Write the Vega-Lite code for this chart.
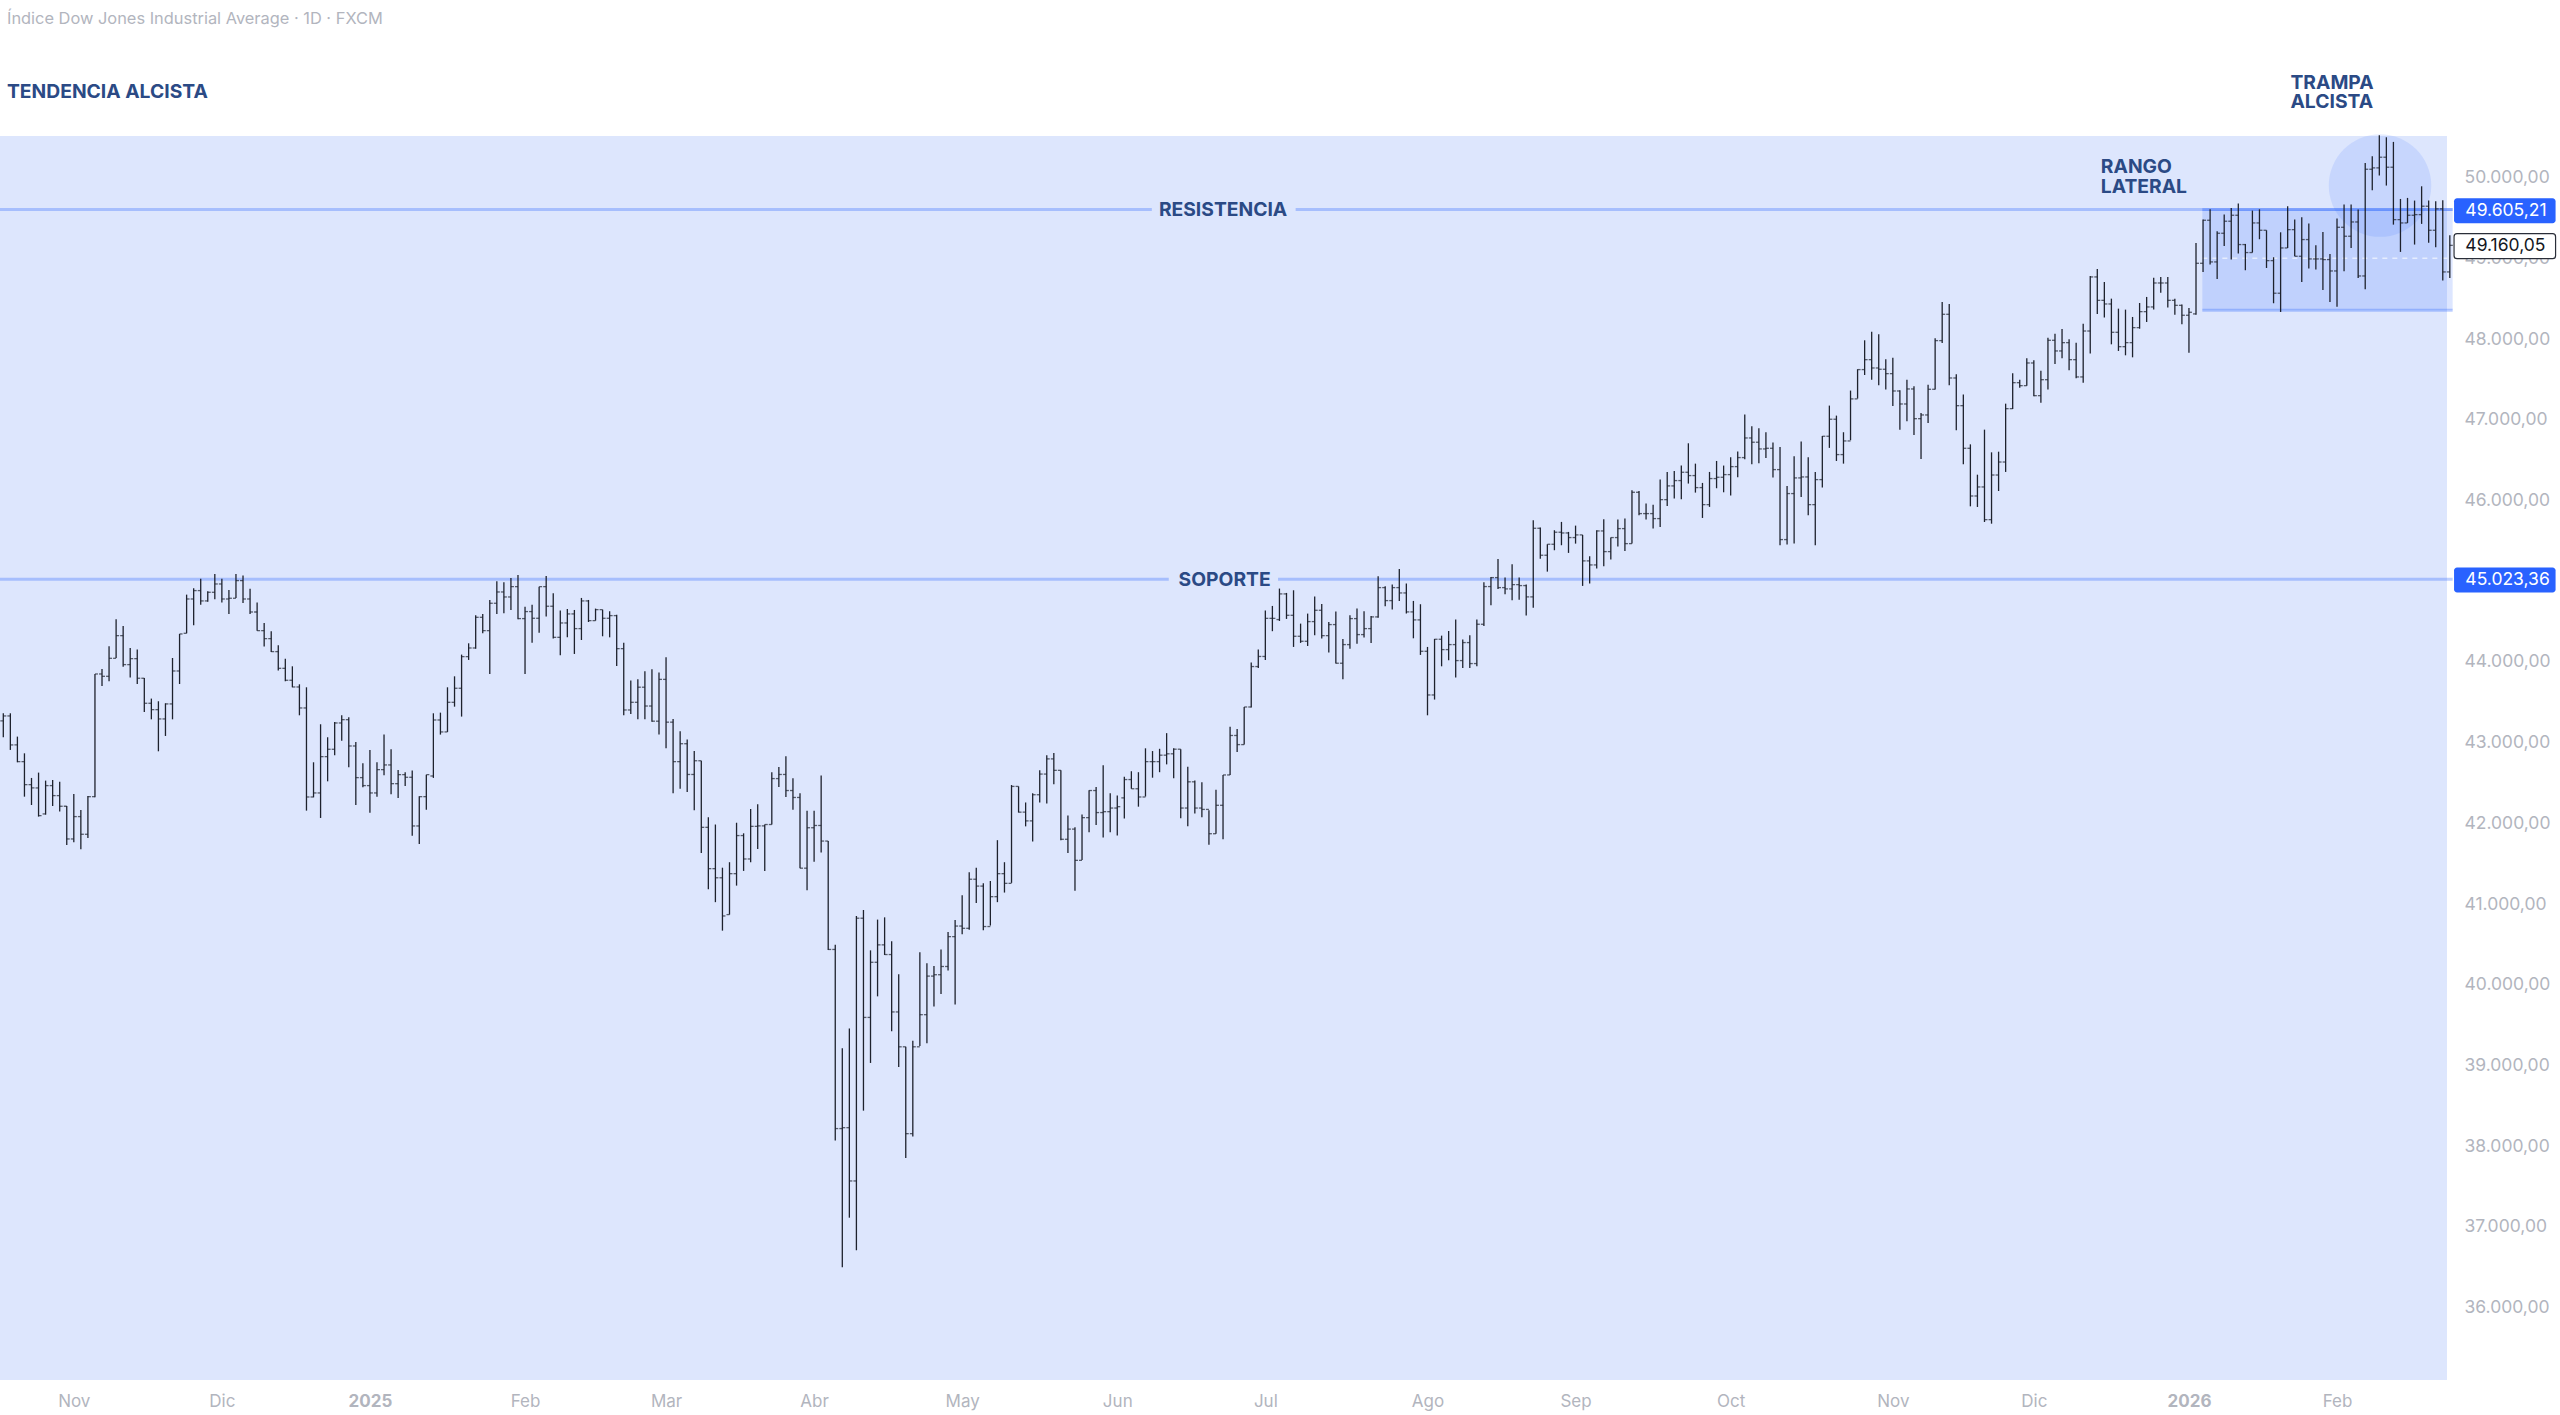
{
  "$schema": "https://vega.github.io/schema/vega-lite/v6.json",
  "autosize": {"type": "none"},
  "padding": {"left": 0, "top": 136, "right": 113, "bottom": 35},
  "width": 2447,
  "height": 1244,
  "background": "#ffffff",
  "config": {"view": {"fill": "#DDE6FD", "stroke": null}, "font": "Inter"},
  "title": {"text": "Índice Dow Jones Industrial Average · 1D · FXCM", "anchor": "start", "frame": "group", "offset": 38, "dx": 7, "baseline": "middle", "font": "Inter", "fontSize": 16.4, "fontWeight": "normal", "color": "#B2B5BE"},
  "datasets": {
    "barras": [
{"i":0,"o":43268,"h":43363,"l":43066,"c":43330},
{"i":1,"o":43330,"h":43363,"l":42909,"c":42971},
{"i":2,"o":42971,"h":43074,"l":42756,"c":42764},
{"i":3,"o":42764,"h":42867,"l":42330,"c":42479},
{"i":4,"o":42479,"h":42562,"l":42227,"c":42438},
{"i":5,"o":42438,"h":42628,"l":42083,"c":42095},
{"i":6,"o":42116,"h":42529,"l":42107,"c":42467},
{"i":7,"o":42467,"h":42537,"l":42215,"c":42343},
{"i":8,"o":42343,"h":42516,"l":42145,"c":42211},
{"i":9,"o":42211,"h":42215,"l":41732,"c":41806},
{"i":10,"o":41806,"h":42363,"l":41765,"c":42083},
{"i":11,"o":42083,"h":42165,"l":41678,"c":41864},
{"i":12,"o":41864,"h":42339,"l":41818,"c":42330},
{"i":13,"o":42330,"h":43850,"l":42322,"c":43850},
{"i":14,"o":43850,"h":43912,"l":43702,"c":43821},
{"i":15,"o":43821,"h":44193,"l":43759,"c":44044},
{"i":16,"o":44044,"h":44528,"l":44048,"c":44325},
{"i":17,"o":44325,"h":44445,"l":43941,"c":43966},
{"i":18,"o":43966,"h":44172,"l":43805,"c":44040},
{"i":19,"o":44040,"h":44152,"l":43726,"c":43797},
{"i":20,"o":43797,"h":43801,"l":43379,"c":43487},
{"i":21,"o":43487,"h":43545,"l":43288,"c":43408},
{"i":22,"o":43408,"h":43512,"l":42892,"c":43293},
{"i":23,"o":43293,"h":43487,"l":43082,"c":43479},
{"i":24,"o":43479,"h":44048,"l":43288,"c":43887},
{"i":25,"o":43887,"h":44346,"l":43726,"c":44346},
{"i":26,"o":44354,"h":44833,"l":44354,"c":44779},
{"i":27,"o":44779,"h":44912,"l":44453,"c":44883},
{"i":28,"o":44883,"h":45031,"l":44709,"c":44755},
{"i":29,"o":44755,"h":44874,"l":44746,"c":44862},
{"i":30,"o":44862,"h":45089,"l":44775,"c":44965},
{"i":31,"o":44965,"h":45031,"l":44734,"c":44779},
{"i":32,"o":44779,"h":44891,"l":44594,"c":44788},
{"i":33,"o":44788,"h":45089,"l":44792,"c":45007},
{"i":34,"o":45007,"h":45069,"l":44730,"c":44779},
{"i":35,"o":44779,"h":44907,"l":44594,"c":44618},
{"i":36,"o":44618,"h":44734,"l":44387,"c":44387},
{"i":37,"o":44387,"h":44482,"l":44189,"c":44288},
{"i":38,"o":44288,"h":44379,"l":44123,"c":44127},
{"i":39,"o":44127,"h":44205,"l":43892,"c":43920},
{"i":40,"o":43920,"h":44040,"l":43759,"c":43772},
{"i":41,"o":43772,"h":43945,"l":43685,"c":43689},
{"i":42,"o":43689,"h":43722,"l":43338,"c":43429},
{"i":43,"o":43429,"h":43685,"l":42157,"c":42326},
{"i":44,"o":42326,"h":42756,"l":42322,"c":42376},
{"i":45,"o":42376,"h":43227,"l":42066,"c":42826},
{"i":46,"o":42826,"h":43066,"l":42520,"c":42917},
{"i":47,"o":42917,"h":43255,"l":42842,"c":43243},
{"i":48,"o":43243,"h":43338,"l":43024,"c":43284},
{"i":49,"o":43284,"h":43313,"l":42694,"c":42958},
{"i":50,"o":42958,"h":43008,"l":42227,"c":42566},
{"i":51,"o":42566,"h":42743,"l":42446,"c":42467},
{"i":52,"o":42467,"h":42909,"l":42132,"c":42376},
{"i":53,"o":42376,"h":42756,"l":42330,"c":42665},
{"i":54,"o":42665,"h":43099,"l":42595,"c":42723},
{"i":55,"o":42723,"h":42917,"l":42359,"c":42491},
{"i":56,"o":42491,"h":42661,"l":42314,"c":42603},
{"i":57,"o":42603,"h":42632,"l":42463,"c":42570},
{"i":58,"o":42570,"h":42653,"l":41847,"c":41967},
{"i":59,"o":41967,"h":42334,"l":41744,"c":42330},
{"i":60,"o":42330,"h":42603,"l":42169,"c":42603},
{"i":61,"o":42586,"h":43363,"l":42562,"c":43280},
{"i":62,"o":43280,"h":43371,"l":43099,"c":43132},
{"i":63,"o":43132,"h":43685,"l":43132,"c":43499},
{"i":64,"o":43499,"h":43821,"l":43445,"c":43673},
{"i":65,"o":43673,"h":44090,"l":43322,"c":44065},
{"i":66,"o":44065,"h":44230,"l":44024,"c":44172},
{"i":67,"o":44172,"h":44577,"l":44164,"c":44552},
{"i":68,"o":44552,"h":44594,"l":44354,"c":44387},
{"i":69,"o":44387,"h":44767,"l":43850,"c":44726},
{"i":70,"o":44726,"h":44998,"l":44594,"c":44866},
{"i":71,"o":44866,"h":44986,"l":44602,"c":44804},
{"i":72,"o":44804,"h":45040,"l":44643,"c":44932},
{"i":73,"o":44932,"h":45077,"l":44528,"c":44536},
{"i":74,"o":44536,"h":44684,"l":43850,"c":44623},
{"i":75,"o":44623,"h":44709,"l":44238,"c":44540},
{"i":76,"o":44540,"h":44932,"l":44362,"c":44932},
{"i":77,"o":44932,"h":45064,"l":44561,"c":44689},
{"i":78,"o":44689,"h":44850,"l":44288,"c":44304},
{"i":79,"o":44304,"h":44635,"l":44082,"c":44482},
{"i":80,"o":44482,"h":44656,"l":44304,"c":44594},
{"i":81,"o":44594,"h":44643,"l":44098,"c":44412},
{"i":82,"o":44412,"h":44792,"l":44271,"c":44755},
{"i":83,"o":44755,"h":44767,"l":44494,"c":44511},
{"i":84,"o":44511,"h":44660,"l":44511,"c":44647},
{"i":85,"o":44647,"h":44647,"l":44317,"c":44540},
{"i":86,"o":44540,"h":44627,"l":44304,"c":44573},
{"i":87,"o":44573,"h":44585,"l":43949,"c":44164},
{"i":88,"o":44164,"h":44238,"l":43338,"c":43404},
{"i":89,"o":43404,"h":43768,"l":43355,"c":43499},
{"i":90,"o":43499,"h":43784,"l":43288,"c":43686},
{"i":91,"o":43686,"h":43885,"l":43288,"c":43453},
{"i":92,"o":43453,"h":43908,"l":43259,"c":43265},
{"i":93,"o":43265,"h":43868,"l":43100,"c":43783},
{"i":94,"o":43783,"h":44056,"l":42929,"c":43253},
{"i":95,"o":43253,"h":43293,"l":42371,"c":42764},
{"i":96,"o":42764,"h":43140,"l":42428,"c":42986},
{"i":97,"o":42986,"h":43037,"l":42388,"c":42605},
{"i":98,"o":42605,"h":42895,"l":42161,"c":42775},
{"i":99,"o":42775,"h":42775,"l":41632,"c":41950},
{"i":100,"o":41950,"h":42076,"l":41182,"c":41438},
{"i":101,"o":41438,"h":41985,"l":41023,"c":41325},
{"i":102,"o":41325,"h":41450,"l":40670,"c":40852},
{"i":103,"o":40869,"h":41518,"l":40869,"c":41376},
{"i":104,"o":41376,"h":42007,"l":41228,"c":41848},
{"i":105,"o":41848,"h":41876,"l":41410,"c":41558},
{"i":106,"o":41558,"h":42178,"l":41518,"c":41962},
{"i":107,"o":41962,"h":42235,"l":41683,"c":41968},
{"i":108,"o":41968,"h":41985,"l":41410,"c":41985},
{"i":109,"o":41985,"h":42633,"l":41985,"c":42554},
{"i":110,"o":42554,"h":42696,"l":42451,"c":42605},
{"i":111,"o":42605,"h":42832,"l":42326,"c":42406},
{"i":112,"o":42406,"h":42559,"l":42167,"c":42320},
{"i":113,"o":42320,"h":42371,"l":41444,"c":41444},
{"i":114,"o":41444,"h":42155,"l":41171,"c":41945},
{"i":115,"o":41945,"h":42155,"l":41524,"c":41973},
{"i":116,"o":41973,"h":42593,"l":41637,"c":41780},
{"i":117,"o":41780,"h":41780,"l":40431,"c":40437},
{"i":118,"o":40437,"h":40494,"l":38070,"c":38218},
{"i":119,"o":38218,"h":39214,"l":36499,"c":38229},
{"i":120,"o":38229,"h":39458,"l":37114,"c":37569},
{"i":121,"o":37569,"h":40852,"l":36710,"c":40824},
{"i":122,"o":40824,"h":40926,"l":38440,"c":39595},
{"i":123,"o":39595,"h":40426,"l":39031,"c":40278},
{"i":124,"o":40278,"h":40807,"l":39856,"c":40494},
{"i":125,"o":40494,"h":40835,"l":40369,"c":40374},
{"i":126,"o":40374,"h":40539,"l":39424,"c":39663},
{"i":127,"o":39663,"h":40130,"l":38980,"c":39231},
{"i":128,"o":39231,"h":39231,"l":37854,"c":38155},
{"i":129,"o":38155,"h":39305,"l":38121,"c":39231},
{"i":130,"o":39231,"h":40403,"l":39242,"c":39629},
{"i":131,"o":39629,"h":40266,"l":39276,"c":40107},
{"i":132,"o":40107,"h":40232,"l":39731,"c":40124},
{"i":133,"o":40124,"h":40437,"l":39885,"c":40226},
{"i":134,"o":40226,"h":40653,"l":40175,"c":40596},
{"i":135,"o":40596,"h":40801,"l":39754,"c":40727},
{"i":136,"o":40727,"h":41108,"l":40625,"c":40699},
{"i":137,"o":40699,"h":41393,"l":40682,"c":41307},
{"i":138,"o":41307,"h":41450,"l":41012,"c":41222},
{"i":139,"o":41222,"h":41256,"l":40676,"c":40721},
{"i":140,"o":40721,"h":41285,"l":40733,"c":41091},
{"i":141,"o":41091,"h":41791,"l":41023,"c":41376},
{"i":142,"o":41376,"h":41518,"l":41142,"c":41256},
{"i":143,"o":41256,"h":42474,"l":41262,"c":42457},
{"i":144,"o":42457,"h":42457,"l":42133,"c":42138},
{"i":145,"o":42138,"h":42258,"l":41962,"c":42030},
{"i":146,"o":42030,"h":42371,"l":41774,"c":42354},
{"i":147,"o":42354,"h":42656,"l":42258,"c":42610},
{"i":148,"o":42610,"h":42844,"l":42246,"c":42798},
{"i":149,"o":42798,"h":42872,"l":42485,"c":42656},
{"i":150,"o":42656,"h":42656,"l":41791,"c":41802},
{"i":151,"o":41802,"h":42098,"l":41632,"c":41928},
{"i":152,"o":41928,"h":41950,"l":41165,"c":41541},
{"i":153,"o":41541,"h":42110,"l":41546,"c":42070},
{"i":154,"o":42070,"h":42411,"l":41888,"c":42406},
{"i":155,"o":42406,"h":42451,"l":41979,"c":42133},
{"i":156,"o":42133,"h":42719,"l":41825,"c":42144},
{"i":157,"o":42144,"h":42371,"l":41888,"c":42189},
{"i":158,"o":42189,"h":42343,"l":41848,"c":42206},
{"i":159,"o":42315,"h":42576,"l":42059,"c":42542},
{"i":160,"o":42542,"h":42645,"l":42428,"c":42428},
{"i":161,"o":42428,"h":42633,"l":42206,"c":42326},
{"i":162,"o":42326,"h":42929,"l":42332,"c":42764},
{"i":163,"o":42764,"h":42895,"l":42565,"c":42764},
{"i":164,"o":42764,"h":42923,"l":42633,"c":42844},
{"i":165,"o":42844,"h":43117,"l":42730,"c":42861},
{"i":166,"o":42861,"h":42929,"l":42559,"c":42918},
{"i":167,"o":42918,"h":42918,"l":42064,"c":42189},
{"i":168,"o":42189,"h":42702,"l":41962,"c":42514},
{"i":169,"o":42514,"h":42531,"l":42121,"c":42189},
{"i":170,"o":42189,"h":42508,"l":42076,"c":42172},
{"i":171,"o":42172,"h":42161,"l":41734,"c":41871},
{"i":172,"o":41871,"h":42417,"l":41871,"c":42223},
{"i":173,"o":42223,"h":42599,"l":41802,"c":42599},
{"i":174,"o":42599,"h":43197,"l":42599,"c":43088},
{"i":175,"o":43088,"h":43168,"l":42883,"c":42975},
{"i":176,"o":42975,"h":43441,"l":42975,"c":43441},
{"i":177,"o":43441,"h":43993,"l":43436,"c":43942},
{"i":178,"o":43942,"h":44152,"l":43925,"c":44067},
{"i":179,"o":44067,"h":44636,"l":44022,"c":44539},
{"i":180,"o":44539,"h":44693,"l":44380,"c":44539},
{"i":181,"o":44524,"h":44908,"l":44507,"c":44842},
{"i":182,"o":44842,"h":44854,"l":44532,"c":44577},
{"i":183,"o":44577,"h":44887,"l":44185,"c":44317},
{"i":184,"o":44317,"h":44474,"l":44235,"c":44255},
{"i":185,"o":44255,"h":44598,"l":44197,"c":44499},
{"i":186,"o":44499,"h":44809,"l":44330,"c":44639},
{"i":187,"o":44639,"h":44718,"l":44288,"c":44325},
{"i":188,"o":44325,"h":44495,"l":44115,"c":44462},
{"i":189,"o":44462,"h":44623,"l":43979,"c":43983},
{"i":190,"o":43983,"h":44284,"l":43784,"c":44214},
{"i":191,"o":44214,"h":44577,"l":44164,"c":44536},
{"i":192,"o":44536,"h":44660,"l":44226,"c":44338},
{"i":193,"o":44338,"h":44627,"l":44301,"c":44412},
{"i":194,"o":44412,"h":44569,"l":44235,"c":44557},
{"i":195,"o":44557,"h":45061,"l":44548,"c":44920},
{"i":196,"o":44920,"h":44937,"l":44689,"c":44759},
{"i":197,"o":44759,"h":44957,"l":44648,"c":44920},
{"i":198,"o":44920,"h":45151,"l":44755,"c":44854},
{"i":199,"o":44854,"h":44970,"l":44598,"c":44619},
{"i":200,"o":44619,"h":44755,"l":44292,"c":44520},
{"i":201,"o":44520,"h":44714,"l":44086,"c":44131},
{"i":202,"o":44131,"h":44185,"l":43338,"c":43590},
{"i":203,"o":43590,"h":44284,"l":43533,"c":44280},
{"i":204,"o":44280,"h":44325,"l":43945,"c":44152},
{"i":205,"o":44152,"h":44383,"l":44020,"c":44214},
{"i":206,"o":44214,"h":44524,"l":43805,"c":44016},
{"i":207,"o":44016,"h":44276,"l":43925,"c":44239},
{"i":208,"o":44239,"h":44330,"l":43925,"c":43979},
{"i":209,"o":43979,"h":44524,"l":43945,"c":44466},
{"i":210,"o":44466,"h":44986,"l":44445,"c":44933},
{"i":211,"o":44933,"h":45052,"l":44701,"c":45044},
{"i":212,"o":45044,"h":45275,"l":44904,"c":44920},
{"i":213,"o":44920,"h":45044,"l":44838,"c":44904},
{"i":214,"o":44904,"h":45209,"l":44763,"c":44957},
{"i":215,"o":44957,"h":45044,"l":44771,"c":44945},
{"i":216,"o":44945,"h":44957,"l":44573,"c":44805},
{"i":217,"o":44805,"h":45754,"l":44672,"c":45655},
{"i":218,"o":45655,"h":45664,"l":45279,"c":45321},
{"i":219,"o":45321,"h":45457,"l":45118,"c":45457},
{"i":220,"o":45457,"h":45631,"l":45383,"c":45606},
{"i":221,"o":45606,"h":45734,"l":45445,"c":45597},
{"i":222,"o":45597,"h":45610,"l":45350,"c":45540},
{"i":223,"o":45540,"h":45688,"l":45465,"c":45573},
{"i":224,"o":45573,"h":45573,"l":44941,"c":45251},
{"i":225,"o":45251,"h":45308,"l":44970,"c":45201},
{"i":226,"o":45201,"h":45631,"l":45156,"c":45622},
{"i":227,"o":45622,"h":45767,"l":45185,"c":45366},
{"i":228,"o":45366,"h":45540,"l":45267,"c":45540},
{"i":229,"o":45540,"h":45763,"l":45428,"c":45651},
{"i":230,"o":45651,"h":45775,"l":45374,"c":45465},
{"i":231,"o":45465,"h":46126,"l":45465,"c":46101},
{"i":232,"o":46101,"h":46118,"l":45816,"c":45837},
{"i":233,"o":45837,"h":45961,"l":45763,"c":45837},
{"i":234,"o":45837,"h":45948,"l":45651,"c":45775},
{"i":235,"o":45775,"h":46258,"l":45672,"c":46010},
{"i":236,"o":46010,"h":46353,"l":45932,"c":46180},
{"i":237,"o":46180,"h":46366,"l":46023,"c":46246},
{"i":238,"o":46246,"h":46432,"l":46014,"c":46349},
{"i":239,"o":46349,"h":46708,"l":46209,"c":46308},
{"i":240,"o":46308,"h":46456,"l":46097,"c":46159},
{"i":241,"o":46159,"h":46217,"l":45783,"c":45948},
{"i":242,"o":45948,"h":46353,"l":45920,"c":46271},
{"i":243,"o":46271,"h":46489,"l":46151,"c":46287},
{"i":244,"o":46287,"h":46432,"l":46101,"c":46320},
{"i":245,"o":46320,"h":46535,"l":46060,"c":46419},
{"i":246,"o":46419,"h":46605,"l":46287,"c":46531},
{"i":247,"o":46531,"h":47064,"l":46510,"c":46774},
{"i":248,"o":46774,"h":46919,"l":46448,"c":46721},
{"i":249,"o":46721,"h":46894,"l":46461,"c":46638},
{"i":250,"o":46638,"h":46845,"l":46527,"c":46646},
{"i":251,"o":46646,"h":46717,"l":46283,"c":46382},
{"i":252,"o":46382,"h":46663,"l":45445,"c":45515},
{"i":253,"o":45515,"h":46180,"l":45453,"c":46085},
{"i":254,"o":46085,"h":46547,"l":45465,"c":46279},
{"i":255,"o":46279,"h":46729,"l":46043,"c":46291},
{"i":256,"o":46291,"h":46535,"l":45816,"c":45948},
{"i":257,"o":45948,"h":46353,"l":45445,"c":46258},
{"i":258,"o":46258,"h":46799,"l":46159,"c":46795},
{"i":259,"o":46795,"h":47175,"l":46651,"c":47006},
{"i":260,"o":47006,"h":47051,"l":46489,"c":46568},
{"i":261,"o":46568,"h":46845,"l":46456,"c":46737},
{"i":262,"o":46737,"h":47361,"l":46746,"c":47258},
{"i":263,"o":47258,"h":47625,"l":47262,"c":47621},
{"i":264,"o":47621,"h":47984,"l":47554,"c":47744},
{"i":265,"o":47744,"h":48091,"l":47496,"c":47641},
{"i":266,"o":47641,"h":48058,"l":47426,"c":47625},
{"i":267,"o":47625,"h":47748,"l":47373,"c":47571},
{"i":268,"o":47571,"h":47769,"l":47170,"c":47356},
{"i":269,"o":47356,"h":47364,"l":46877,"c":47195},
{"i":270,"o":47195,"h":47496,"l":46980,"c":47381},
{"i":271,"o":47381,"h":47414,"l":46811,"c":47013},
{"i":272,"o":47013,"h":47083,"l":46514,"c":47059},
{"i":273,"o":47059,"h":47434,"l":46960,"c":47377},
{"i":274,"o":47377,"h":48009,"l":47373,"c":47980},
{"i":275,"o":47980,"h":48459,"l":47951,"c":48306},
{"i":276,"o":48306,"h":48434,"l":47426,"c":47517},
{"i":277,"o":47517,"h":47563,"l":46869,"c":47174},
{"i":278,"o":47174,"h":47311,"l":46447,"c":46646},
{"i":279,"o":46646,"h":46695,"l":45927,"c":46055},
{"i":280,"o":46055,"h":46319,"l":45919,"c":46167},
{"i":281,"o":46167,"h":46877,"l":45733,"c":45762},
{"i":282,"o":45762,"h":46596,"l":45712,"c":46315},
{"i":283,"o":46315,"h":46604,"l":46117,"c":46476},
{"i":284,"o":46476,"h":47199,"l":46353,"c":47137},
{"i":285,"o":47137,"h":47575,"l":47133,"c":47459},
{"i":286,"o":47459,"h":47496,"l":47397,"c":47422},
{"i":287,"o":47422,"h":47761,"l":47422,"c":47703},
{"i":288,"o":47703,"h":47736,"l":47290,"c":47298},
{"i":289,"o":47298,"h":47608,"l":47211,"c":47496},
{"i":290,"o":47496,"h":48017,"l":47373,"c":47984},
{"i":291,"o":47984,"h":48066,"l":47691,"c":47852},
{"i":292,"o":47852,"h":48124,"l":47761,"c":47955},
{"i":293,"o":47955,"h":47996,"l":47612,"c":47744},
{"i":294,"o":47744,"h":47955,"l":47513,"c":47530},
{"i":295,"o":47530,"h":48190,"l":47459,"c":48099},
{"i":296,"o":48099,"h":48781,"l":47819,"c":48769},
{"i":297,"o":48769,"h":48868,"l":48310,"c":48479},
{"i":298,"o":48479,"h":48707,"l":48265,"c":48434},
{"i":299,"o":48434,"h":48500,"l":47934,"c":48083},
{"i":300,"o":48083,"h":48376,"l":47852,"c":47905},
{"i":301,"o":47905,"h":48364,"l":47798,"c":47955},
{"i":302,"o":47955,"h":48273,"l":47773,"c":48141},
{"i":303,"o":48141,"h":48446,"l":48128,"c":48339},
{"i":304,"o":48339,"h":48521,"l":48211,"c":48397},
{"i":305,"o":48397,"h":48760,"l":48364,"c":48694},
{"i":306,"o":48694,"h":48769,"l":48574,"c":48694},
{"i":307,"o":48694,"h":48769,"l":48389,"c":48479},
{"i":308,"o":48479,"h":48500,"l":48302,"c":48417},
{"i":309,"o":48417,"h":48426,"l":48182,"c":48294},
{"i":310,"o":48294,"h":48384,"l":47831,"c":48331},
{"i":311,"o":48311,"h":49190,"l":48302,"c":48938},
{"i":312,"o":48938,"h":49479,"l":48831,"c":49471},
{"i":313,"o":49471,"h":49607,"l":48922,"c":48955},
{"i":314,"o":48955,"h":49335,"l":48744,"c":49310},
{"i":315,"o":49310,"h":49541,"l":49153,"c":49459},
{"i":316,"o":49459,"h":49624,"l":48984,"c":49533},
{"i":317,"o":49533,"h":49678,"l":49058,"c":49170},
{"i":318,"o":49170,"h":49178,"l":48852,"c":49071},
{"i":319,"o":49071,"h":49591,"l":49071,"c":49438},
{"i":320,"o":49438,"h":49607,"l":49236,"c":49347},
{"i":321,"o":49347,"h":49347,"l":48880,"c":48971},
{"i":322,"o":48971,"h":49013,"l":48443,"c":48567},
{"i":323,"o":48567,"h":49322,"l":48335,"c":49128},
{"i":324,"o":49128,"h":49645,"l":49128,"c":49355},
{"i":325,"o":49355,"h":49479,"l":49025,"c":49025},
{"i":326,"o":49025,"h":49508,"l":48707,"c":49232},
{"i":327,"o":49232,"h":49430,"l":48872,"c":48992},
{"i":328,"o":48992,"h":49161,"l":48860,"c":48992},
{"i":329,"o":48992,"h":49327,"l":48608,"c":48984},
{"i":330,"o":48984,"h":49054,"l":48459,"c":48843},
{"i":331,"o":48843,"h":49492,"l":48401,"c":49384},
{"i":332,"o":49384,"h":49665,"l":48839,"c":49273},
{"i":333,"o":49273,"h":49665,"l":49128,"c":49450},
{"i":334,"o":49450,"h":49603,"l":48757,"c":48781},
{"i":335,"o":48781,"h":50182,"l":48616,"c":50103},
{"i":336,"o":50103,"h":50264,"l":49843,"c":50120},
{"i":337,"o":50120,"h":50524,"l":50025,"c":50252},
{"i":338,"o":50252,"h":50499,"l":49901,"c":50128},
{"i":339,"o":50128,"h":50442,"l":49417,"c":49479},
{"i":340,"o":49479,"h":49735,"l":49079,"c":49438},
{"i":341,"o":49438,"h":49748,"l":49438,"c":49533},
{"i":342,"o":49533,"h":49715,"l":49170,"c":49541},
{"i":343,"o":49541,"h":49892,"l":49426,"c":49645},
{"i":344,"o":49645,"h":49715,"l":49194,"c":49347},
{"i":345,"o":49347,"h":49707,"l":49137,"c":49612},
{"i":346,"o":49612,"h":49719,"l":48724,"c":48831},
{"i":347,"o":48831,"h":49285,"l":48757,"c":49160.05}
    ],
    "niveles": [
      {"desde": -0.468, "hasta": 162.9, "precio": 49605.21},
      {"desde": 183.3, "hasta": 347.4, "precio": 49605.21},
      {"desde": -0.468, "hasta": 165.3, "precio": 45023.36},
      {"desde": 180.8, "hasta": 347.4, "precio": 45023.36},
      {"desde": 311.9, "hasta": 347.4, "precio": 49605.21},
      {"desde": 311.9, "hasta": 347.4, "precio": 48356}
    ],
    "rango": [{"desde": 311.9, "hasta": 347.4, "arriba": 49605.21, "abajo": 48356}],
    "trampa": [{"i": 337.1, "precio": 49901}],
    "rotulos": [
      {"i": 0.52, "precio": 51066, "texto": "TENDENCIA ALCISTA"},
      {"i": 163.9, "precio": 49600, "texto": "RESISTENCIA"},
      {"i": 166.7, "precio": 45010, "texto": "SOPORTE"},
      {"i": 297.5, "precio": 50128, "texto": "RANGO"},
      {"i": 297.5, "precio": 49888, "texto": "LATERAL"},
      {"i": 324.4, "precio": 51177, "texto": "TRAMPA"},
      {"i": 324.4, "precio": 50933, "texto": "ALCISTA"}
    ],
    "etiquetas": [
      {"desde": 347.6, "hasta": 362, "arriba": 49745, "abajo": 49435, "precio": 49590, "i": 349.2, "texto": "49.605,21", "tipo": "nivel"},
      {"desde": 347.6, "hasta": 362, "arriba": 45170, "abajo": 44860, "precio": 45015, "i": 349.2, "texto": "45.023,36", "tipo": "nivel"},
      {"desde": 347.6, "hasta": 362, "arriba": 49305, "abajo": 48995, "precio": 49150, "i": 349.2, "texto": "49.160,05", "tipo": "ultimo"}
    ]
  },
  "data": {"name": "barras"},
  "encoding": {
    "x": {
      "field": "i",
      "type": "quantitative",
      "title": null,
      "scale": {"domain": [-0.468, 346.6], "nice": false, "zero": false},
      "axis": {
        "orient": "bottom",
        "values": [10, 31, 52, 74, 94, 115, 136, 158, 179, 202, 223, 245, 268, 288, 310, 331],
        "labelExpr": "['Nov','Dic','2025','Feb','Mar','Abr','May','Jun','Jul','Ago','Sep','Oct','Nov','Dic','2026','Feb'][indexof([10,31,52,74,94,115,136,158,179,202,223,245,268,288,310,331],datum.value)]",
        "domain": false,
        "ticks": false,
        "grid": false,
        "labelPadding": 13,
        "labelFont": "Inter",
        "labelFontSize": 17,
        "labelColor": "#B2B5BE",
        "labelFontWeight": {"condition": {"test": "datum.value == 52 || datum.value == 310", "value": "bold"}, "value": "normal"}
      }
    },
    "y": {
      "type": "quantitative",
      "title": null,
      "scale": {"domain": [35103, 50515], "nice": false, "zero": false},
      "axis": {
        "orient": "right",
        "values": [36000, 37000, 38000, 39000, 40000, 41000, 42000, 43000, 44000, 45000, 46000, 47000, 48000, 49000, 50000],
        "labelExpr": "replace(replace(replace(format(datum.value, ',.2f'), ',', '#'), '.', ','), '#', '.')",
        "domain": false,
        "ticks": false,
        "grid": false,
        "labelPadding": 17,
        "labelAlign": "left",
        "labelFont": "Inter",
        "labelFontSize": 17.5,
        "labelColor": "#B2B5BE"
      }
    }
  },
  "layer": [
    {
      "data": {"name": "rango"},
      "mark": {"type": "rect", "color": "#2962FF", "opacity": 0.16},
      "encoding": {
        "x": {"field": "desde", "type": "quantitative"},
        "x2": {"field": "hasta"},
        "y": {"field": "arriba", "type": "quantitative"},
        "y2": {"field": "abajo"}
      }
    },
    {
      "data": {"name": "trampa"},
      "mark": {"type": "circle", "size": 10500, "color": "#2962FF", "opacity": 0.12, "clip": false},
      "encoding": {
        "x": {"field": "i", "type": "quantitative"},
        "y": {"field": "precio", "type": "quantitative"}
      }
    },
    {
      "data": {"name": "niveles"},
      "mark": {"type": "rule", "color": "#2962FF", "opacity": 0.3, "strokeWidth": 3},
      "encoding": {
        "x": {"field": "desde", "type": "quantitative"},
        "x2": {"field": "hasta"},
        "y": {"field": "precio", "type": "quantitative"}
      }
    },
    {
      "mark": {"type": "rule", "color": "#FFFFFF", "opacity": 0.6, "strokeWidth": 1.5, "strokeDash": [5, 5]},
      "data": {"values": [{"desde": 311.9, "hasta": 347.4, "precio": 49000}]},
      "encoding": {
        "x": {"field": "desde", "type": "quantitative"},
        "x2": {"field": "hasta"},
        "y": {"field": "precio", "type": "quantitative"}
      }
    },
    {
      "mark": {"type": "rule", "color": "#1E222D", "strokeWidth": 1.3},
      "encoding": {
        "y": {"field": "l", "type": "quantitative"},
        "y2": {"field": "h"}
      }
    },
    {
      "mark": {"type": "tick", "orient": "horizontal", "color": "#1E222D", "size": 3, "thickness": 1.3, "xOffset": -1.5},
      "encoding": {"y": {"field": "o", "type": "quantitative"}}
    },
    {
      "mark": {"type": "tick", "orient": "horizontal", "color": "#1E222D", "size": 3, "thickness": 1.3, "xOffset": 1.5},
      "encoding": {"y": {"field": "c", "type": "quantitative"}}
    },
    {
      "data": {"name": "rotulos"},
      "mark": {"type": "text", "align": "left", "baseline": "middle", "font": "Inter", "fontSize": 19.3, "fontWeight": "bold", "color": "#2B4A85"},
      "encoding": {
        "x": {"field": "i", "type": "quantitative"},
        "y": {"field": "precio", "type": "quantitative"},
        "text": {"field": "texto"}
      }
    },
    {
      "data": {"name": "etiquetas"},
      "transform": [{"filter": "datum.tipo == 'nivel'"}],
      "mark": {"type": "rect", "color": "#2962FF", "cornerRadius": 3},
      "encoding": {
        "x": {"field": "desde", "type": "quantitative"},
        "x2": {"field": "hasta"},
        "y": {"field": "arriba", "type": "quantitative"},
        "y2": {"field": "abajo"}
      }
    },
    {
      "data": {"name": "etiquetas"},
      "transform": [{"filter": "datum.tipo == 'ultimo'"}],
      "mark": {"type": "rect", "fill": "#FFFFFF", "stroke": "#2A2E39", "strokeWidth": 1.2, "cornerRadius": 3},
      "encoding": {
        "x": {"field": "desde", "type": "quantitative"},
        "x2": {"field": "hasta"},
        "y": {"field": "arriba", "type": "quantitative"},
        "y2": {"field": "abajo"}
      }
    },
    {
      "data": {"name": "etiquetas"},
      "transform": [{"filter": "datum.tipo == 'nivel'"}],
      "mark": {"type": "text", "align": "left", "baseline": "middle", "font": "Inter", "fontSize": 17.5, "color": "#FFFFFF"},
      "encoding": {
        "x": {"field": "i", "type": "quantitative"},
        "y": {"field": "precio", "type": "quantitative"},
        "text": {"field": "texto"}
      }
    },
    {
      "data": {"name": "etiquetas"},
      "transform": [{"filter": "datum.tipo == 'ultimo'"}],
      "mark": {"type": "text", "align": "left", "baseline": "middle", "font": "Inter", "fontSize": 17.5, "color": "#131722"},
      "encoding": {
        "x": {"field": "i", "type": "quantitative"},
        "y": {"field": "precio", "type": "quantitative"},
        "text": {"field": "texto"}
      }
    }
  ]
}
